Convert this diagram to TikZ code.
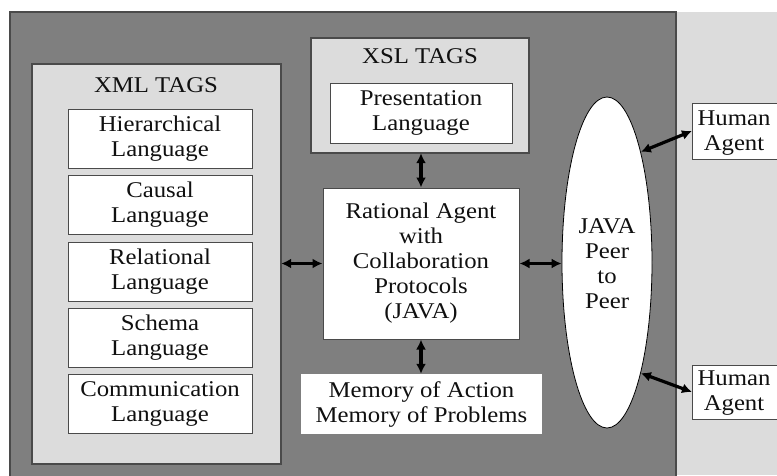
\documentclass[tikz,border=0pt]{standalone}
\usepackage{fontspec}
\setmainfont{Liberation Serif}[FakeStretch=1.1]
\usetikzlibrary{shapes.geometric,arrows.meta}
\definecolor{darkpanel}{HTML}{7F7F7F}
\definecolor{lightpanel}{HTML}{DCDCDC}
\definecolor{edgegray}{HTML}{4A4A4A}
\definecolor{txt}{HTML}{101010}
\tikzset{
  panel/.style={draw=edgegray, line width=1.2pt, fill=lightpanel, inner sep=0},
  langbox/.style={draw=edgegray, line width=1pt, fill=white, minimum width=184, minimum height=59, align=center, inner sep=0, text=txt},
  label/.style={font=\fontsize{22.5}{25}\selectfont, text=txt},
  biarrow/.style={{Latex[length=10pt,width=10pt]}-{Latex[length=10pt,width=10pt]}, line width=3.2pt, black},
}
\begin{document}
\begin{tikzpicture}[x=1pt,y=-1pt,font=\fontsize{22.5}{25}\selectfont]
\useasboundingbox (0,0) rectangle (777,475);
\clip (0,0) rectangle (777,475);
% backgrounds
\fill[white] (0,0) rectangle (777,475);
\fill[lightpanel] (676,12) rectangle (777,475);
\draw[edgegray, line width=1.5pt, fill=darkpanel] (10,12) rectangle (676,480);
% XML panel
\draw[panel] (32,64) rectangle (281,464);
\node[label] (xmltitle) at (156,85) {XML TAGS};
\node[langbox] (hier) at (160,138.5) {Hierarchical\\Language};
\node[langbox] (caus) at (160,205) {Causal\\Language};
\node[langbox] (rel) at (160,271.5) {Relational\\Language};
\node[langbox] (sch) at (160,337.5) {Schema\\Language};
\node[langbox] (comm) at (160,404) {Communication\\Language};
\node[inner sep=0, minimum width=249, minimum height=400] (xml) at (156.5,264) {};
% XSL panel
\draw[panel] (311,38) rectangle (529,153);
\node[label] (xsltitle) at (420,56) {XSL TAGS};
\node[langbox, minimum width=182, minimum height=60] (pres) at (421,113) {Presentation\\Language};
\node[inner sep=0, minimum width=218, minimum height=115] (xsl) at (420,95.5) {};
% Rational agent
\node[draw=edgegray, line width=1pt, fill=white, minimum width=196, minimum height=151, align=center, inner sep=0, text=txt] (ra) at (421,263.5) {Rational Agent\\with\\Collaboration\\Protocols\\(JAVA)};
% Memory
\node[fill=white, minimum width=241, minimum height=60, align=center, inner sep=0, text=txt] (mem) at (421.5,404) {Memory of Action\\Memory of Problems};
% Ellipse
\node[ellipse, draw=black, line width=0.8pt, fill=white, minimum width=90, minimum height=331, inner sep=0, align=center, text=txt] (ell) at (607,262.5) {};
\node[align=center, text=txt, inner sep=0] (elltext) at (607,264) {JAVA\\Peer\\to\\Peer};
% Human agents
\node[draw=edgegray, line width=1pt, fill=white, minimum width=100, minimum height=56, inner sep=0, anchor=west] (hum1) at (692,131) {};
\node[align=center, text=txt, inner sep=0] (h1t) at (734,133) {Human\\Agent};
\node[draw=edgegray, line width=1pt, fill=white, minimum width=100, minimum height=54, inner sep=0, anchor=west] (hum2) at (692,392) {};
\node[align=center, text=txt, inner sep=0] (h2t) at (734,393) {Human\\Agent};
% arrows
\draw[biarrow] (xsl.south -| ra.north) -- (ra.north);
\draw[biarrow] (ra.south) -- (ra.south |- mem.north);
\draw[biarrow] (xml.east |- ra.west) -- (ra.west);
\draw[biarrow] (ra.east) -- (ell.west |- ra.east);
\draw[biarrow] (ell.73) -- (hum1.west);
\draw[biarrow] (ell.-73) -- (hum2.west);
\end{tikzpicture}
\end{document}
